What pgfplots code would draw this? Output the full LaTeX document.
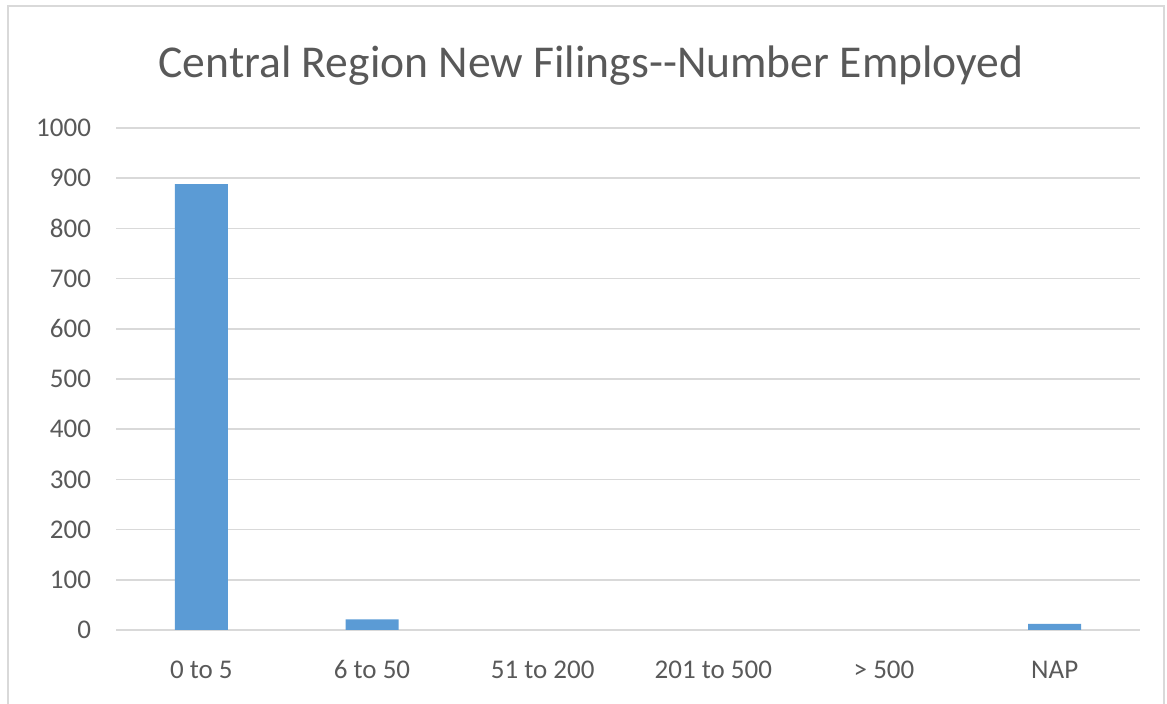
\documentclass[border=0pt]{standalone}
\usepackage{fontspec}
\setmainfont{Carlito}
\usepackage{pgfplots}
\pgfplotsset{compat=1.18}
\definecolor{barblue}{HTML}{5B9BD5}
\definecolor{txtgray}{HTML}{595959}
\definecolor{gridgray}{HTML}{D9D9D9}
\begin{document}
\begin{tikzpicture}
\path[use as bounding box] (0,0) rectangle (583.5pt,352pt);
\draw[gridgray, line width=1.2pt] (4pt,-5pt) rectangle (582pt,349pt);
\node[txtgray, font=\fontsize{22.8}{27}\selectfont] at (295.5pt,319pt) {Central Region New Filings{-}{-}Number Employed};
\begin{axis}[
    at={(58pt,37pt)}, anchor=south west,
    scale only axis, width=512pt, height=251pt,
    ymin=0, ymax=1000, ytick distance=100,
    xmin=-0.5, xmax=5.5,
    xtick={0,...,5},
    xticklabels={0 to 5, 6 to 50, 51 to 200, 201 to 500, > 500, NAP},
    axis x line*=bottom, axis y line*=left,
    x axis line style={gridgray, line width=0.9pt, -},
    y axis line style={draw=none},
    ymajorgrids, grid style={gridgray, line width=0.8pt},
    major tick length=0pt,
    tick label style={txtgray, font=\fontsize{13.5}{16}\selectfont},
    /pgf/number format/assume math mode=true,
    /pgf/number format/1000 sep={},
    yticklabel style={xshift=-9pt},
    xticklabel style={text height=1.6ex, text depth=0.3ex, yshift=-13pt},
    ybar, bar width=26.5pt,
]
\addplot[fill=barblue, draw=none] coordinates {(0,888) (1,21) (5,12)};
\end{axis}
\end{tikzpicture}
\end{document}
